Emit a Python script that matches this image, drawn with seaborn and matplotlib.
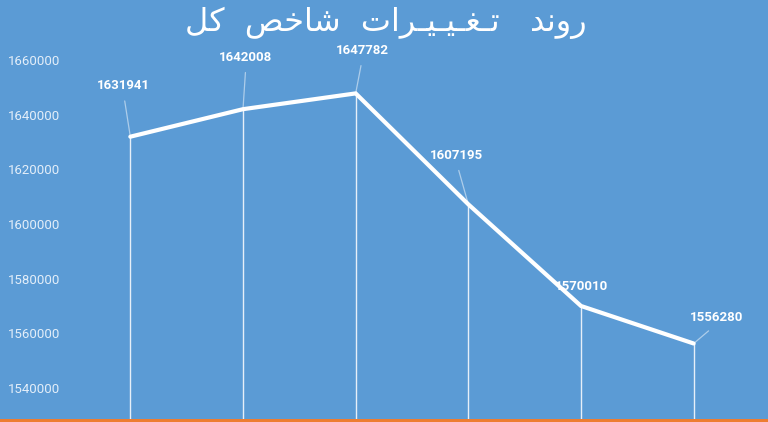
import matplotlib
matplotlib.use("Agg")
import matplotlib.pyplot as plt
from matplotlib.patches import Rectangle
import pandas as pd
import seaborn as sns

# data
periods = ["1", "2", "3", "4", "5", "6"]
index_values = [1631941, 1642008, 1647782, 1607195, 1570010, 1556280]
y_ticks = [1540000, 1560000, 1580000, 1600000, 1620000, 1640000, 1660000]
title = "روند   تـغـیـیـرات  شاخص  کل"

# label offsets from the point, in pixels (dx, dy)
label_offsets = [(-7, 51), (3, 52), (7, 43), (-12, 49), (1, 19), (23, 26)]

BG = "#5B9BD5"
ORANGE = "#ED7D31"

# matplotlib does no arabic shaping, so pick the joined forms by hand
FORMS = {
    "ر": ("\uFEAD", "\uFEAE", None, None),
    "و": ("\uFEED", "\uFEEE", None, None),
    "د": ("\uFEA9", "\uFEAA", None, None),
    "ا": ("\uFE8D", "\uFE8E", None, None),
    "ن": ("\uFEE5", "\uFEE6", "\uFEE7", "\uFEE8"),
    "ت": ("\uFE95", "\uFE96", "\uFE97", "\uFE98"),
    "غ": ("\uFECD", "\uFECE", "\uFECF", "\uFED0"),
    "ی": ("\uFBFC", "\uFBFD", "\uFBFE", "\uFBFF"),
    "ش": ("\uFEB5", "\uFEB6", "\uFEB7", "\uFEB8"),
    "خ": ("\uFEA5", "\uFEA6", "\uFEA7", "\uFEA8"),
    "ص": ("\uFEB9", "\uFEBA", "\uFEBB", "\uFEBC"),
    "ک": ("\uFB8E", "\uFB8F", "\uFB90", "\uFB91"),
    "ل": ("\uFEDD", "\uFEDE", "\uFEDF", "\uFEE0"),
    "ـ": ("\u0640",) * 4,
}


def shape(text):
    out = []
    for i, c in enumerate(text):
        if c not in FORMS:
            out.append(c)
            continue
        prev = text[i - 1] if i > 0 else " "
        nxt = text[i + 1] if i + 1 < len(text) else " "
        join_prev = prev in FORMS and FORMS[prev][2] is not None
        join_next = FORMS[c][2] is not None and nxt in FORMS
        if join_prev and join_next:
            out.append(FORMS[c][3])
        elif join_next:
            out.append(FORMS[c][2])
        elif join_prev:
            out.append(FORMS[c][1])
        else:
            out.append(FORMS[c][0])
    return "".join(out)[::-1]


df = pd.DataFrame({"period": periods, "value": index_values})
df["x"] = range(len(df))

sns.set_style("white")
plt.rcParams["font.family"] = ["Roboto", "DejaVu Sans"]

fig = plt.figure(figsize=(7.68, 4.22), dpi=100, facecolor=BG)
ax = fig.add_axes([74 / 768, 3 / 422, 676 / 768, 419 / 422])
ax.set_facecolor(BG)

ax.set_xlim(-0.5, len(df) - 0.5)
ax.set_ylim(1528660, 1681950)
ymin = ax.get_ylim()[0]

# drop lines
ax.vlines(df["x"], ymin, df["value"], color="white", lw=1.0, alpha=0.85, zorder=2)

sns.lineplot(data=df, x="x", y="value", ax=ax, color="white", lw=3.0,
             solid_joinstyle="miter", zorder=3)

for (x, v), (dx, dy) in zip(zip(df["x"], df["value"]), label_offsets):
    arrow = None
    if dy > 25:
        arrow = dict(arrowstyle="-", color="white", alpha=0.5, lw=0.9,
                     shrinkA=4, shrinkB=1, relpos=(0.5, 0))
    ax.annotate(f"{v}", xy=(x, v), xytext=(dx, dy), textcoords="offset pixels",
                ha="center", va="center", color="white", fontsize=9.5,
                fontweight="bold", arrowprops=arrow, zorder=4)

ax.set_yticks(y_ticks)
ax.set_yticklabels([str(t) for t in y_ticks])
ax.set_xticks([])
ax.tick_params(axis="y", length=0, pad=10, labelsize=9.5, labelcolor="#e3eef9")
ax.set_xlabel("")
ax.set_ylabel("")
sns.despine(ax=ax, left=True, bottom=True, top=True, right=True)

fig.text(0.502, 0.945, shape(title), ha="center", va="center", color="white",
         fontsize=23, family=["DejaVu Sans"])

fig.patches.append(Rectangle((0, 0), 1, 3 / 422, transform=fig.transFigure,
                             facecolor=ORANGE, edgecolor="none"))

fig.savefig("out.png", dpi=100, facecolor=BG)
